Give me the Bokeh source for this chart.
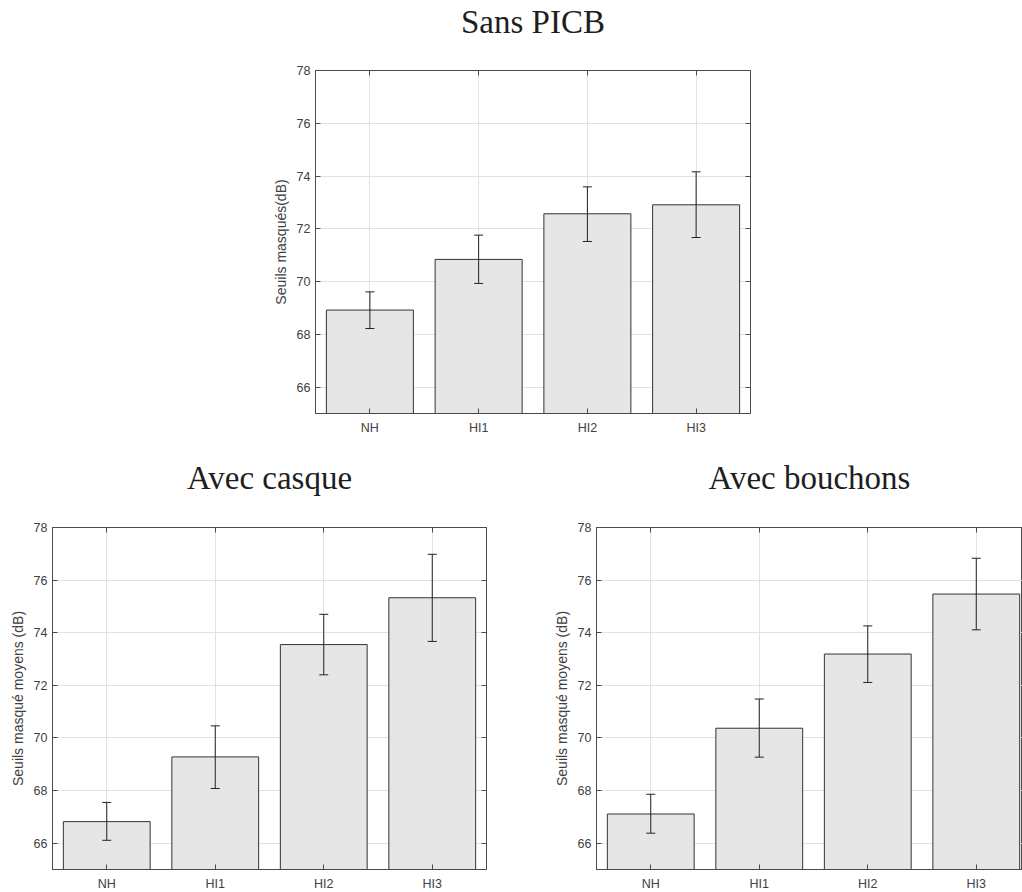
from bokeh.plotting import figure
from bokeh.models import (Range1d, FixedTicker, LinearAxis, Whisker, TeeHead,
                          ColumnDataSource, Spacer)
from bokeh.layouts import column, row
from bokeh.embed import file_html
from bokeh.resources import INLINE

categories = ["NH", "HI1", "HI2", "HI3"]

sans_mean = [68.92, 70.84, 72.57, 72.91]
sans_low = [68.22, 69.93, 71.52, 71.67]
sans_high = [69.61, 71.76, 73.59, 74.16]

casque_mean = [66.82, 69.28, 73.55, 75.33]
casque_low = [66.11, 68.08, 72.40, 73.67]
casque_high = [67.55, 70.46, 74.70, 76.98]

bouchons_mean = [67.11, 70.37, 73.19, 75.47]
bouchons_low = [66.38, 69.27, 72.11, 74.11]
bouchons_high = [67.86, 71.48, 74.26, 76.83]

y_ticks = [66, 68, 70, 72, 74, 76, 78]
Y0, Y1 = 65, 78

AX = "#4a4a4a"
TXT = "#404040"
GRID = "#e2e2e2"
SANS = "Liberation Sans"


def tick_only_axis(ticks):
    return LinearAxis(ticker=FixedTicker(ticks=ticks), major_label_text_color=None,
                      major_tick_in=5, major_tick_out=0, major_label_standoff=0,
                      axis_line_color=AX, major_tick_line_color=AX,
                      minor_tick_line_color=None)


def make_panel(title, ylabel, mean, low, high, frame_w, frame_h, x_end,
               bl, br, bt, bb, title_gap, right_axis=True):
    xs = list(range(1, len(categories) + 1))
    src = ColumnDataSource(dict(x=xs, top=mean, low=low, high=high, cat=categories))
    p = figure(output_backend="svg", toolbar_location=None,
               frame_width=frame_w, frame_height=frame_h,
               x_range=Range1d(0.5, x_end), y_range=Range1d(Y0, Y1),
               min_border_left=bl, min_border_right=br,
               min_border_top=bt, min_border_bottom=bb,
               background_fill_color="white", border_fill_color="white")
    p.outline_line_color = AX
    p.outline_line_width = 1

    p.vbar(x="x", top="top", bottom=Y0, width=0.8, source=src,
           fill_color="#e6e6e6", line_color="#333333", line_width=1)
    w = Whisker(source=src, base="x", upper="high", lower="low",
                line_color="#222222", line_width=1, level="overlay",
                upper_head=TeeHead(size=9, line_color="#222222", line_width=1),
                lower_head=TeeHead(size=9, line_color="#222222", line_width=1))
    p.add_layout(w)

    p.xaxis.ticker = FixedTicker(ticks=xs)
    p.xaxis.major_label_overrides = {x: c for x, c in zip(xs, categories)}
    p.yaxis.ticker = FixedTicker(ticks=y_ticks)
    p.yaxis.axis_label = ylabel
    for ax in (p.xaxis[0], p.yaxis[0]):
        ax.axis_line_color = AX
        ax.major_tick_line_color = AX
        ax.major_tick_in = 5
        ax.major_tick_out = 0
        ax.minor_tick_line_color = None
        ax.major_label_text_font = SANS
        ax.major_label_text_font_size = "12.5px"
        ax.major_label_text_color = TXT
        ax.axis_label_text_font = SANS
        ax.axis_label_text_font_size = "14px"
        ax.axis_label_text_font_style = "normal"
        ax.axis_label_text_color = TXT
    p.xaxis.major_label_standoff = 7
    p.yaxis.major_label_standoff = 5
    p.yaxis.axis_label_standoff = 5

    p.xgrid.ticker = FixedTicker(ticks=xs)
    p.ygrid.ticker = FixedTicker(ticks=y_ticks)
    p.grid.grid_line_color = GRID
    p.grid.grid_line_width = 1

    # top axis: ticks inside, and the panel title as its label
    top_ax = tick_only_axis(xs)
    top_ax.axis_label = title
    top_ax.axis_label_standoff = title_gap
    top_ax.axis_label_text_font = "Liberation Serif"
    top_ax.axis_label_text_font_size = "33px"
    top_ax.axis_label_text_font_style = "normal"
    top_ax.axis_label_text_color = "#1e1e1e"
    p.add_layout(top_ax, "above")
    if right_axis:
        p.add_layout(tick_only_axis(y_ticks), "right")
    return p


p1 = make_panel("Sans PICB", "Seuils masqués(dB)", sans_mean, sans_low, sans_high,
                435, 343, 4.5, 60, 30, 69, 27, 31)
p2 = make_panel("Avec casque", "Seuils masqué moyens (dB)", casque_mean, casque_low, casque_high,
                434, 342, 4.5, 52, 30, 87, 22, 32)
p3 = make_panel("Avec bouchons", "Seuils masqué moyens (dB)", bouchons_mean, bouchons_low,
                bouchons_high, 426, 342, 4.426, 60, 0, 87, 22, 32, right_axis=False)

layout = column(row(Spacer(width=255, height=10), p1),
                row(p2, Spacer(width=20, height=10), p3))

open("out.html", "w").write(file_html(layout, INLINE))
